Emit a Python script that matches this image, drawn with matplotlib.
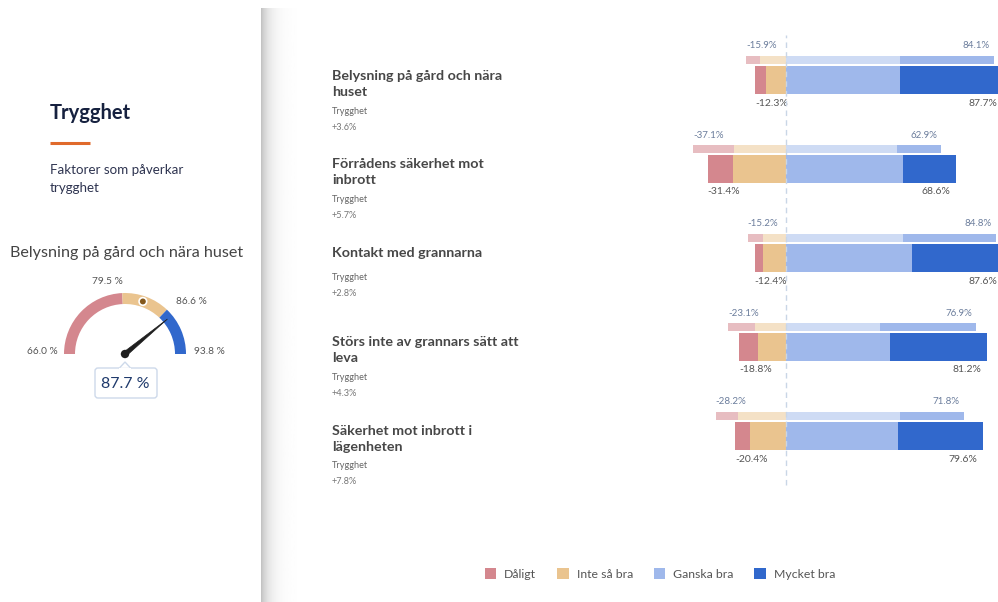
import matplotlib.pyplot as plt
import numpy as np
from matplotlib.patches import Wedge, Polygon, Circle, FancyBboxPatch, Patch

plt.rcParams['font.family'] = ['Lato', 'DejaVu Sans']

# --- data ---
questions = ['Belysning på gård och nära\nhuset', 'Förrådens säkerhet mot\ninbrott',
             'Kontakt med grannarna', 'Störs inte av grannars sätt att\nleva',
             'Säkerhet mot inbrott i\nlägenheten']
group = 'Trygghet'
changes = ['+3.6%', '+5.7%', '+2.8%', '+4.3%', '+7.8%']
categories = ['Dåligt', 'Inte så bra', 'Ganska bra', 'Mycket bra']
colors = ['#d4878e', '#eac48f', '#9fb8eb', '#3168cc']

# current period (thick bar)
daligt = [4.5, 10.3, 3.2, 7.9, 6.0]
inte_sa_bra = [7.8, 21.1, 9.2, 10.9, 14.4]
ganska_bra = [46.0, 47.5, 51.0, 42.2, 45.2]
mycket_bra = [41.7, 21.1, 36.6, 39.0, 34.4]

# comparison period (thin bar)
daligt_prev = [5.6, 16.3, 6.3, 11.0, 8.9]
inte_sa_bra_prev = [10.3, 20.8, 8.9, 12.1, 19.3]
ganska_bra_prev = [46.0, 44.8, 47.2, 38.1, 46.0]
mycket_bra_prev = [38.1, 18.1, 37.6, 38.8, 25.8]

# gauge
gauge_title = 'Belysning på gård och nära huset'
gauge_min, gauge_max = 66.0, 93.8
gauge_bands = [79.5, 86.6]
gauge_value = 87.7
gauge_target = 82.8

W, H = 998, 602
fig = plt.figure(figsize=(W / 100, H / 100), dpi=100)
bg = fig.add_axes([0, 0, 1, 1])
bg.set_xlim(0, W)
bg.set_ylim(H, 0)
bg.axis('off')

# page shadow between the two panels
grad = np.linspace(0, 1, 60)
shade = 1 - 0.24 * np.exp(-grad * 4.5)
bg.imshow(shade[None, :], cmap='gray', vmin=0, vmax=1, aspect='auto',
          extent=(261, 300, H, 8), zorder=0)

# --- left panel ---
bg.text(50, 113, group, fontsize=14.5, fontweight='bold', color='#16213f', va='center')
bg.plot([50, 90], [143, 143], color='#e06a2c', lw=2.2, solid_capstyle='butt')
bg.text(50, 179, 'Faktorer som påverkar\ntrygghet', fontsize=9.6, color='#2e3450',
        va='center', linespacing=1.6)
bg.text(10, 253, gauge_title, fontsize=11.6, color='#444444', va='center')

cx, cy, r_out, width = 125, 354, 61, 11
span = gauge_max - gauge_min


def ang(v):
    return 180 - (v - gauge_min) / span * 180


edges = [gauge_min] + gauge_bands + [gauge_max]
for i in range(3):
    bg.add_patch(Wedge((cx, cy), r_out, -ang(edges[i]), -ang(edges[i + 1]),
                       width=width, facecolor=colors[[0, 1, 3][i]], edgecolor='none'))

# target marker
ta = np.radians(ang(gauge_target))
rm = r_out - width / 2
bg.add_patch(Circle((cx + rm * np.cos(ta), cy - rm * np.sin(ta)), 3.8,
                    facecolor='#84581c', edgecolor='white', lw=1.2, zorder=3))

# needle
na = np.radians(ang(gauge_value))
tip = (cx + 55 * np.cos(na), cy - 55 * np.sin(na))
perp = np.array([-np.sin(na), -np.cos(na)])
base1 = np.array([cx, cy]) + perp * 2.3
base2 = np.array([cx, cy]) - perp * 2.3
bg.add_patch(Polygon([base1, tip, base2], closed=True, facecolor='#1e1e1e', edgecolor='#1e1e1e',
                     lw=0.5, zorder=4))
bg.add_patch(Circle((cx, cy), 4.2, facecolor='#1e1e1e', zorder=5))

lab_kw = dict(fontsize=7.3, color='#555555', va='center')
bg.text(107, 281, f'{gauge_bands[0]:.1f} %', ha='center', **lab_kw)
bg.text(176, 301, f'{gauge_bands[1]:.1f} %', ha='left', **lab_kw)
bg.text(58, 352, f'{gauge_min:.1f} %', ha='right', **lab_kw)
bg.text(194, 352, f'{gauge_max:.1f} %', ha='left', **lab_kw)

bg.add_patch(FancyBboxPatch((95, 368), 62, 30, boxstyle='round,pad=0,rounding_size=3',
                            facecolor='white', edgecolor='#cdd9ea', lw=1, zorder=3))
bg.add_patch(Polygon([(119, 368.5), (125, 362), (131, 368.5)], closed=True,
                     facecolor='white', edgecolor='#cdd9ea', lw=1, zorder=3))
bg.plot([119.8, 130.2], [368.5, 368.5], color='white', lw=1.6, zorder=3)
bg.text(125, 384, f'{gauge_value:.1f} %', fontsize=11.5, color='#1f3a6c', ha='center',
        va='center', zorder=4)

# --- right panel: question texts ---
title_y = [84, 172, 253, 350, 439]
sub_y = [111, 199, 278, 378, 466]
for q, ty, sy, ch in zip(questions, title_y, sub_y, changes):
    bg.text(332, ty, q, fontsize=10.3, fontweight='bold', color='#474747', va='center',
            linespacing=1.35)
    bg.text(332, sy, group, fontsize=6.6, color='#666666', va='center')
    bg.text(332, sy + 16, ch, fontsize=6.6, color='#777777', va='center')

# --- bars ---
px_zero, px_per = 785.5, 2.48
ax_l, ax_r, ax_t, ax_b = 680, 998, 30, 490
ax = fig.add_axes([ax_l / W, 1 - ax_b / H, (ax_r - ax_l) / W, (ax_b - ax_t) / H])
ax.set_xlim((ax_l - px_zero) / px_per, (ax_r - px_zero) / px_per)
row_px, first_px = 89, 80
ax.set_ylim((ax_b - first_px) / row_px, (ax_t - first_px) / row_px)
ax.axis('off')
ax.patch.set_alpha(0)

y = np.arange(len(questions))
y_prev = y - 20 / row_px
h_main, h_prev = 28 / row_px, 8 / row_px

neg = np.array(daligt) + np.array(inte_sa_bra)
pos = np.array(ganska_bra) + np.array(mycket_bra)
neg_p = np.array(daligt_prev) + np.array(inte_sa_bra_prev)
pos_p = np.array(ganska_bra_prev) + np.array(mycket_bra_prev)

ax.axvline(0, color='#c9d6e6', lw=1, ls=(0, (4, 3)), ymin=0.01, ymax=0.99, zorder=5)

ax.barh(y_prev, daligt_prev, left=-neg_p, height=h_prev, color=colors[0], alpha=0.55, lw=0)
ax.barh(y_prev, inte_sa_bra_prev, left=-np.array(inte_sa_bra_prev), height=h_prev,
        color=colors[1], alpha=0.5, lw=0)
ax.barh(y_prev, ganska_bra_prev, left=0, height=h_prev, color=colors[2], alpha=0.5, lw=0)
ax.barh(y_prev, mycket_bra_prev, left=ganska_bra_prev, height=h_prev, color=colors[2],
        alpha=1, lw=0)

ax.barh(y, daligt, left=-neg, height=h_main, color=colors[0], lw=0, label=categories[0])
ax.barh(y, inte_sa_bra, left=-np.array(inte_sa_bra), height=h_main, color=colors[1], lw=0,
        label=categories[1])
ax.barh(y, ganska_bra, left=0, height=h_main, color=colors[2], lw=0, label=categories[2])
ax.barh(y, mycket_bra, left=ganska_bra, height=h_main, color=colors[3], lw=0,
        label=categories[3])

for i in range(len(y)):
    ax.annotate(f'-{neg_p[i]:.1f}%', (-neg_p[i], y[i]), xytext=(0, 34 * 0.72),
                textcoords='offset points', ha='left', va='center', fontsize=7,
                color='#6b7d9c', annotation_clip=False)
    ax.annotate(f'{pos_p[i]:.1f}%', (pos_p[i], y[i]), xytext=(-3, 34 * 0.72),
                textcoords='offset points', ha='right', va='center', fontsize=7,
                color='#6b7d9c', annotation_clip=False)
    ax.annotate(f'-{neg[i]:.1f}%', (-neg[i], y[i]), xytext=(0, -23 * 0.72),
                textcoords='offset points', ha='left', va='center', fontsize=7.5,
                color='#555555', annotation_clip=False)
    ax.annotate(f'{pos[i]:.1f}%', (pos[i], y[i]), xytext=(-4, -23 * 0.72),
                textcoords='offset points', ha='right', va='center', fontsize=7.5,
                color='#555555', annotation_clip=False)

handles = [Patch(facecolor=c, edgecolor='none') for c in colors]
fig.legend(handles, categories, loc='center', bbox_to_anchor=(660 / W, 1 - 574 / H),
           ncol=4, frameon=False, fontsize=8.8, handlelength=0.95, handleheight=0.95,
           handletextpad=0.65, columnspacing=1.7, labelcolor='#555555')

fig.savefig('out.png', dpi=100)
